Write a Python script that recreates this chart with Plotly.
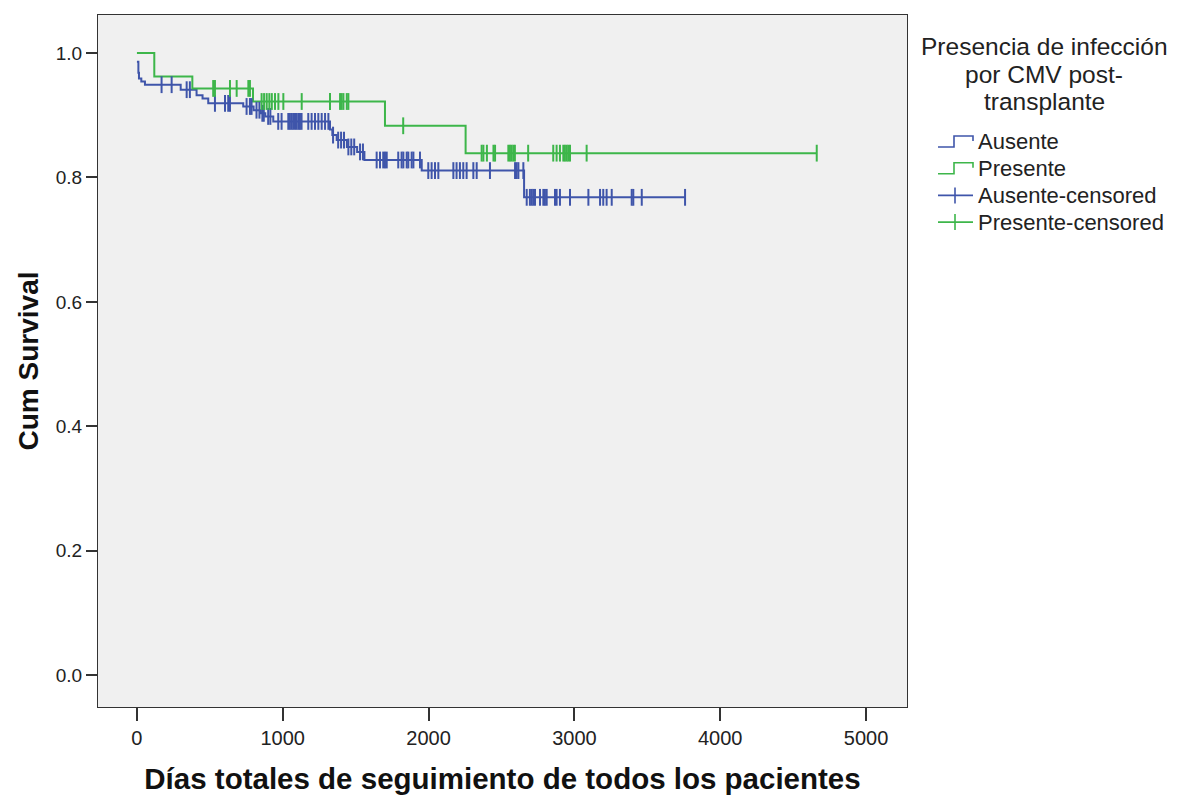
import numpy as np
import plotly.graph_objects as go

# Kaplan-Meier step data: day of each event and the cumulative survival after it
ausente_event_days = [0, 10, 14, 30, 55, 300, 409, 450, 489, 729, 800, 850, 880, 935,
                      1324, 1340, 1370, 1440, 1510, 1560, 1953, 2655]
ausente_event_surv = [0.986, 0.968, 0.959, 0.954, 0.949, 0.941, 0.932, 0.927, 0.919, 0.914,
                      0.908, 0.903, 0.898, 0.890, 0.877, 0.868, 0.860, 0.849, 0.841, 0.828,
                      0.811, 0.768]
ausente_censored_days = [169, 238, 341, 363, 535, 604, 626, 638, 752, 775, 786, 820, 840, 860,
                         870, 900, 915, 969, 992, 1038, 1049, 1061, 1072, 1084, 1095, 1107,
                         1118, 1129, 1175, 1198, 1221, 1244, 1267, 1290, 1313, 1345, 1380,
                         1400, 1420, 1450, 1470, 1490, 1530, 1550, 1644, 1667, 1689, 1701,
                         1713, 1792, 1815, 1827, 1850, 1861, 1884, 1896, 1941, 1998, 2021,
                         2044, 2067, 2170, 2192, 2215, 2238, 2261, 2307, 2330, 2421, 2593,
                         2604, 2616, 2650, 2673, 2695, 2707, 2718, 2730, 2764, 2787, 2798,
                         2810, 2867, 2878, 2901, 2970, 3096, 3176, 3198, 3221, 3256, 3393,
                         3404, 3462, 3759]

presente_event_days = [0, 119, 380, 796, 1701, 2254]
presente_event_surv = [1.0, 0.962, 0.943, 0.922, 0.883, 0.839]
presente_censored_days = [523, 535, 638, 684, 764, 775, 855, 872, 890, 908, 925, 947, 970,
                          1004, 1130, 1324, 1393, 1404, 1416, 1439, 1450, 1826, 2364, 2376,
                          2400, 2445, 2456, 2547, 2558, 2569, 2581, 2592, 2683, 2855, 2878,
                          2901, 2924, 2935, 2947, 2958, 2970, 3084, 4662]

x_ticks = [0, 1000, 2000, 3000, 4000, 5000]
y_ticks = [0.0, 0.2, 0.4, 0.6, 0.8, 1.0]

legend_title_lines = ["Presencia de infección", "por CMV post-", "transplante"]

BLUE = "#3f55aa"
GREEN = "#3db64a"
FONT = "Liberation Sans, Arial, sans-serif"


def surv_at(event_days, event_surv, days):
    idx = np.searchsorted(np.asarray(event_days), np.asarray(days), side="right") - 1
    return np.asarray(event_surv)[idx]


def km_trace(event_days, event_surv, censored, color):
    end = max(censored[-1], event_days[-1])
    xs = list(event_days) + [end]
    ys = list(event_surv) + [event_surv[-1]]
    return go.Scatter(x=xs, y=ys, mode="lines", line=dict(color=color, width=2, shape="hv"),
                      showlegend=False, hoverinfo="skip")


def censor_trace(event_days, event_surv, censored, color):
    return go.Scatter(x=censored, y=surv_at(event_days, event_surv, censored), mode="markers",
                      marker=dict(symbol="line-ns", size=12, line=dict(color=color, width=2)),
                      showlegend=False, hoverinfo="skip")


fig = go.Figure()
fig.add_trace(km_trace(ausente_event_days, ausente_event_surv, ausente_censored_days, BLUE))
fig.add_trace(km_trace(presente_event_days, presente_event_surv, presente_censored_days, GREEN))
fig.add_trace(censor_trace(ausente_event_days, ausente_event_surv, ausente_censored_days, BLUE))
fig.add_trace(censor_trace(presente_event_days, presente_event_surv, presente_censored_days, GREEN))

W, H = 1187, 795
L, R, T, B = 98, 280, 15, 88
PW, PH = W - L - R, H - T - B


def px(x):
    return (x - L) / PW


def py(y):
    return (H - B - y) / PH


# Legend drawn beside the plot: title, step icons and censor icons
annotations = []
for i, line in enumerate(legend_title_lines):
    annotations.append(dict(text=line, xref="paper", yref="paper", x=px(1044), y=py(47 + i * 27),
                            xanchor="center", yanchor="middle", showarrow=False,
                            font=dict(family=FONT, size=24.5, color="#222222")))
shapes = []
legend_items = [("Ausente", BLUE, "step"), ("Presente", GREEN, "step"),
                ("Ausente-censored", BLUE, "cens"), ("Presente-censored", GREEN, "cens")]
for i, (label, color, kind) in enumerate(legend_items):
    yc = 142 + i * 26.7
    annotations.append(dict(text=label, xref="paper", yref="paper", x=px(976), y=py(yc),
                            xanchor="left", yanchor="middle", showarrow=False,
                            font=dict(family=FONT, size=22, color="#222222")))
    if kind == "step":
        path = (f"M {px(938)} {py(yc + 5)} L {px(954)} {py(yc + 5)} L {px(954)} {py(yc - 6)} "
                f"L {px(973)} {py(yc - 6)} L {px(973)} {py(yc - 1)}")
        shapes.append(dict(type="path", xref="paper", yref="paper", path=path,
                           line=dict(color=color, width=1.6)))
    else:
        shapes.append(dict(type="line", xref="paper", yref="paper", x0=px(938), x1=px(973),
                           y0=py(yc), y1=py(yc), line=dict(color=color, width=1.6)))
        shapes.append(dict(type="line", xref="paper", yref="paper", x0=px(955), x1=px(955),
                           y0=py(yc - 8), y1=py(yc + 8), line=dict(color=color, width=1.6)))

fig.update_layout(
    width=W, height=H,
    margin=dict(l=L, r=R, t=T, b=B, pad=0, autoexpand=False),
    paper_bgcolor="white", plot_bgcolor="#f0f0f0",
    font=dict(family=FONT, size=19, color="#222222"),
    annotations=annotations, shapes=shapes,
    showlegend=False,
)
fig.update_xaxes(
    range=[-267, 5281], tickvals=x_ticks, ticks="outside", ticklen=13, tickwidth=1.5,
    tickcolor="#333333", showgrid=False, zeroline=False, showline=True, linecolor="#333333",
    linewidth=1.2, mirror=True, tickfont=dict(size=20), automargin=False,
    title=dict(text="<b>Días totales de seguimiento de todos los pacientes</b>",
               font=dict(family=FONT, size=29.5, color="#111111"), standoff=20),
)
fig.update_yaxes(
    range=[-0.051, 1.061], tickvals=y_ticks, tickformat=".1f", ticks="outside", ticklen=11,
    tickwidth=1.5, tickcolor="#333333", showgrid=False, zeroline=False, showline=True,
    linecolor="#333333", linewidth=1.2, mirror=True, tickfont=dict(size=19), automargin=False,
    title=dict(text="<b>Cum Survival</b>", font=dict(family=FONT, size=28, color="#111111"),
               standoff=8),
)

fig.write_html("out.html")
